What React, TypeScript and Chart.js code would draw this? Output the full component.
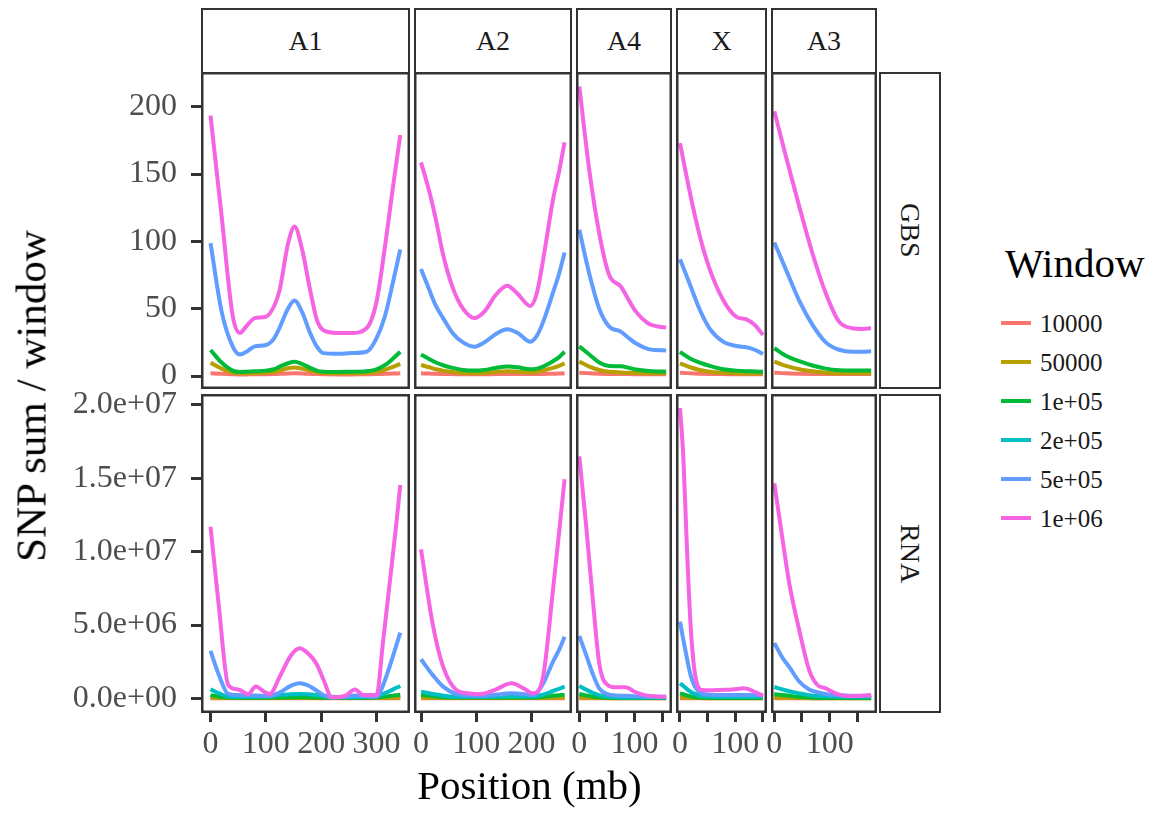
import React, { useEffect, useRef } from "react";
import { Chart, registerables } from "chart.js";
Chart.register(...registerables);

// ---------------- DATA ----------------
const WINDOWS = ["10000", "50000", "1e+05", "2e+05", "5e+05", "1e+06"];
const COLORS = ["#F8766D", "#B79F00", "#00BA38", "#00BFC4", "#619CFF", "#F564E3"];
const CHROMS = ["A1", "A2", "A4", "X", "A3"];
const DATASETS = ["GBS", "RNA"];

// x-axis ticks and labels per chromosome (mb)
const A1_TICKS = [0, 100, 200, 300];
const A1_TICK_LABELS = ["0", "100", "200", "300"];
const A2_TICKS = [0, 100, 200];
const A2_TICK_LABELS = ["0", "100", "200"];
const A4_TICKS = [0, 50, 100, 150];
const A4_TICK_LABELS = ["0", "", "100", ""];
const X_TICKS = [0, 50, 100, 150];
const X_TICK_LABELS = ["0", "", "100", ""];
const A3_TICKS = [0, 50, 100, 150];
const A3_TICK_LABELS = ["0", "", "100", ""];

// y-axis ticks and labels per row
const GBS_TICKS = [0, 50, 100, 150, 200];
const GBS_TICK_LABELS = ["0", "50", "100", "150", "200"];
const RNA_TICKS = [0, 5e6, 1e7, 1.5e7, 2e7];
const RNA_TICK_LABELS = ["0.0e+00", "5.0e+06", "1.0e+07", "1.5e+07", "2.0e+07"];

// ---- GBS ----
const A1_GBS_X = [0, 20, 40, 53, 65, 80, 100, 115, 125, 140, 152, 165, 180, 192, 204, 230, 255, 282, 300, 315, 330, 343];
const A1_GBS_10000 = [2, 1.6, 1.3, 1.2, 1.2, 1.3, 1.3, 1.4, 1.6, 1.9, 2, 1.9, 1.6, 1.4, 1.3, 1.2, 1.2, 1.3, 1.4, 1.6, 1.8, 2];
const A1_GBS_50000 = [9.9, 5.5, 2.5, 2, 2, 2.2, 2.5, 3, 4, 5.8, 6.4, 5.5, 4, 2.8, 2.2, 2, 2, 2.2, 3, 4.5, 6.8, 9];
const A1_GBS_1e05 = [19.3, 10, 4, 3, 3.2, 3.5, 4, 5, 7, 9.5, 10.6, 9, 6, 4, 3.2, 3, 3.2, 3.5, 5, 8, 13, 18];
const A1_GBS_5e05 = [98.7, 48, 22, 16, 18, 22, 23, 28, 36, 50, 56, 48, 32, 22, 17, 16.5, 17, 18, 28, 44, 70, 94];
const A1_GBS_1e06 = [193.5, 119, 45, 32, 37, 43, 44, 52, 64, 98, 111, 95, 64, 42, 34, 32, 32, 35.5, 55, 95, 141, 179];

const A2_GBS_X = [0, 15, 27, 40, 57, 76, 97, 115, 135, 156, 175, 198, 210, 221, 239, 250, 260];
const A2_GBS_10000 = [2, 1.8, 1.6, 1.5, 1.4, 1.3, 1.3, 1.3, 1.4, 1.5, 1.5, 1.4, 1.4, 1.5, 1.7, 1.8, 2];
const A2_GBS_50000 = [8.2, 6.5, 5, 4, 3, 2.2, 2, 2.3, 3, 3.5, 3.2, 2.8, 3.2, 4, 6, 7.5, 9.4];
const A2_GBS_1e05 = [16, 12.5, 10, 8, 6, 4.5, 4, 4.5, 6, 7, 6.5, 5, 5.5, 7, 11, 14, 18];
const A2_GBS_5e05 = [79.4, 64, 52, 43, 32, 25, 21.8, 25, 31, 34.7, 32, 25.5, 30, 40, 62, 76, 91.7];
const A2_GBS_1e06 = [158.7, 137, 116, 90, 66, 50, 43, 48, 60, 67, 61, 52, 62, 86, 131, 152, 173.6];

const A4_GBS_X = [0, 18, 36, 54, 75, 90, 102, 125, 140, 157];
const A4_GBS_10000 = [2.5, 2, 1.7, 1.5, 1.4, 1.4, 1.3, 1.3, 1.3, 1.3];
const A4_GBS_50000 = [10.7, 7, 4.5, 3.2, 2.6, 2.3, 2.2, 2, 2, 2];
const A4_GBS_1e05 = [22, 16, 10, 7.4, 7.2, 6, 4.8, 3.8, 3.4, 3.2];
const A4_GBS_5e05 = [108.6, 76, 50, 36.7, 33, 28, 24.3, 20, 19.3, 19];
const A4_GBS_1e06 = [215, 153, 106, 75, 66.5, 56, 48, 39, 37, 36];

const X_GBS_X = [0, 18, 36, 54, 78, 102, 120, 135, 150];
const X_GBS_10000 = [2.5, 2, 1.7, 1.5, 1.4, 1.3, 1.3, 1.3, 1.3];
const X_GBS_50000 = [9.4, 6.5, 4.5, 3.2, 2.4, 2, 1.9, 1.8, 1.8];
const X_GBS_1e05 = [17.9, 13, 10, 7.5, 5, 4, 3.6, 3.4, 3.2];
const X_GBS_5e05 = [86.8, 68, 49, 35, 25.5, 22.3, 21.3, 19.5, 16.4];
const X_GBS_1e06 = [173, 136, 103.6, 79, 56.5, 44, 42, 38, 30.5];

const A3_GBS_X = [0, 21, 45, 69, 93, 117, 141, 160, 175];
const A3_GBS_10000 = [2.5, 2, 1.7, 1.5, 1.4, 1.4, 1.4, 1.4, 1.5];
const A3_GBS_50000 = [10.7, 7.5, 5, 3.5, 2.5, 2.1, 2, 2, 2];
const A3_GBS_1e05 = [20.6, 15, 11, 7.8, 5.5, 4.3, 4, 4, 4];
const A3_GBS_5e05 = [99.2, 79, 56, 38, 25, 19.5, 18, 18, 18.4];
const A3_GBS_1e06 = [196.7, 163, 126, 91, 61.5, 40.4, 35.5, 35, 35.5];

// ---- RNA ----
const A1_RNA_X = [0, 15, 32, 50, 68, 82, 95, 107, 125, 145, 161, 175, 191, 205, 219, 243, 261, 276, 300, 312, 324, 335, 343];
const A1_RNA_10000 = [8e3, 6e3, 5e3, 5e3, 5e3, 5e3, 5e3, 5e3, 5e3, 5e3, 5e3, 5e3, 5e3, 5e3, 5e3, 5e3, 5e3, 5e3, 5e3, 6e3, 7e3, 8e3, 8e3];
const A1_RNA_50000 = [5e4, 3.5e4, 2e4, 2e4, 2e4, 2e4, 2e4, 2e4, 2e4, 2.5e4, 2.5e4, 2.5e4, 2e4, 2e4, 2e4, 2e4, 2e4, 2e4, 2e4, 3e4, 4e4, 5e4, 6e4];
const A1_RNA_1e05 = [0.22e6, 0.12e6, 0.05e6, 0.04e6, 0.04e6, 0.04e6, 0.04e6, 0.05e6, 0.06e6, 0.07e6, 0.08e6, 0.07e6, 0.06e6, 0.05e6, 0.04e6, 0.04e6, 0.04e6, 0.04e6, 0.05e6, 0.1e6, 0.16e6, 0.21e6, 0.25e6];
const A1_RNA_2e05 = [0.61e6, 0.35e6, 0.12e6, 0.1e6, 0.1e6, 0.1e6, 0.12e6, 0.15e6, 0.22e6, 0.28e6, 0.3e6, 0.28e6, 0.22e6, 0.15e6, 0.1e6, 0.08e6, 0.08e6, 0.1e6, 0.15e6, 0.3e6, 0.5e6, 0.7e6, 0.84e6];
const A1_RNA_5e05 = [3.23e6, 1.6e6, 0.3e6, 0.22e6, 0.2e6, 0.2e6, 0.17e6, 0.15e6, 0.4e6, 0.85e6, 1.02e6, 0.9e6, 0.55e6, 0.2e6, 0.05e6, 0.1e6, 0.2e6, 0.15e6, 0.1e6, 0.9e6, 2.2e6, 3.5e6, 4.48e6];
const A1_RNA_1e06 = [11.7e6, 6.3e6, 0.91e6, 0.6e6, 0.29e6, 0.8e6, 0.5e6, 0.3e6, 1.47e6, 2.9e6, 3.41e6, 3.1e6, 2.39e6, 1.2e6, 0.07e6, 0.16e6, 0.61e6, 0.22e6, 0.22e6, 3.9e6, 7.9e6, 11.6e6, 14.55e6];

const A2_RNA_X = [0, 21, 40, 64, 85, 109, 135, 164, 185, 203, 221, 239, 250, 260];
const A2_RNA_10000 = [8e3, 6e3, 5e3, 5e3, 5e3, 5e3, 5e3, 5e3, 5e3, 5e3, 5e3, 6e3, 7e3, 8e3];
const A2_RNA_50000 = [5e4, 3.5e4, 2.5e4, 2e4, 2e4, 2e4, 2e4, 2e4, 2e4, 2e4, 3e4, 4e4, 5e4, 6e4];
const A2_RNA_1e05 = [0.25e6, 0.15e6, 0.08e6, 0.05e6, 0.05e6, 0.05e6, 0.05e6, 0.06e6, 0.05e6, 0.05e6, 0.1e6, 0.17e6, 0.21e6, 0.25e6];
const A2_RNA_2e05 = [0.45e6, 0.3e6, 0.18e6, 0.1e6, 0.1e6, 0.1e6, 0.12e6, 0.15e6, 0.13e6, 0.12e6, 0.25e6, 0.5e6, 0.65e6, 0.79e6];
const A2_RNA_5e05 = [2.66e6, 1.6e6, 0.8e6, 0.29e6, 0.2e6, 0.16e6, 0.25e6, 0.34e6, 0.3e6, 0.22e6, 1.0e6, 2.5e6, 3.3e6, 4.2e6];
const A2_RNA_1e06 = [10.16e6, 5.1e6, 2.16e6, 0.57e6, 0.35e6, 0.29e6, 0.6e6, 1.02e6, 0.7e6, 0.34e6, 1.47e6, 7.4e6, 11.3e6, 14.94e6];

const A4_RNA_X = [0, 12, 24, 36, 51, 66, 84, 100, 120, 140, 157];
const A4_RNA_10000 = [8e3, 6e3, 5e3, 4e3, 4e3, 4e3, 4e3, 4e3, 4e3, 4e3, 4e3];
const A4_RNA_50000 = [6e4, 4e4, 3e4, 2e4, 1.5e4, 1e4, 1e4, 1e4, 1e4, 1e4, 1e4];
const A4_RNA_1e05 = [0.29e6, 0.2e6, 0.12e6, 0.07e6, 0.04e6, 0.03e6, 0.02e6, 0.02e6, 0.02e6, 0.02e6, 0.02e6];
const A4_RNA_2e05 = [0.84e6, 0.6e6, 0.38e6, 0.22e6, 0.12e6, 0.08e6, 0.06e6, 0.05e6, 0.05e6, 0.05e6, 0.05e6];
const A4_RNA_5e05 = [4.25e6, 3.0e6, 1.7e6, 0.68e6, 0.29e6, 0.2e6, 0.17e6, 0.15e6, 0.12e6, 0.1e6, 0.1e6];
const A4_RNA_1e06 = [16.5e6, 11.9e6, 6.9e6, 2.39e6, 0.91e6, 0.75e6, 0.75e6, 0.45e6, 0.2e6, 0.13e6, 0.11e6];

const X_RNA_X = [0, 6, 12, 19, 27, 39, 55, 72, 95, 115, 135, 150];
const X_RNA_10000 = [1e4, 8e3, 7e3, 6e3, 5e3, 4e3, 4e3, 4e3, 4e3, 4e3, 4e3, 4e3];
const X_RNA_50000 = [7e4, 6e4, 4.5e4, 3e4, 2e4, 1.5e4, 1e4, 1e4, 1e4, 1e4, 1e4, 1e4];
const X_RNA_1e05 = [0.34e6, 0.28e6, 0.2e6, 0.14e6, 0.08e6, 0.04e6, 0.03e6, 0.02e6, 0.02e6, 0.02e6, 0.02e6, 0.02e6];
const X_RNA_2e05 = [1.02e6, 0.85e6, 0.65e6, 0.45e6, 0.3e6, 0.15e6, 0.12e6, 0.1e6, 0.1e6, 0.1e6, 0.1e6, 0.1e6];
const X_RNA_5e05 = [5.23e6, 4.0e6, 2.84e6, 1.6e6, 0.8e6, 0.34e6, 0.25e6, 0.22e6, 0.22e6, 0.22e6, 0.22e6, 0.22e6];
const X_RNA_1e06 = [19.78e6, 16.5e6, 10.8e6, 5.1e6, 1.7e6, 0.57e6, 0.55e6, 0.57e6, 0.6e6, 0.68e6, 0.45e6, 0.16e6];

const A3_RNA_X = [0, 15, 27, 45, 63, 78, 93, 111, 135, 155, 175];
const A3_RNA_10000 = [8e3, 7e3, 6e3, 5e3, 4e3, 4e3, 4e3, 4e3, 4e3, 4e3, 4e3];
const A3_RNA_50000 = [6e4, 4.5e4, 3.5e4, 2.5e4, 1.5e4, 1e4, 1e4, 1e4, 1e4, 1e4, 1e4];
const A3_RNA_1e05 = [0.29e6, 0.22e6, 0.17e6, 0.1e6, 0.06e6, 0.04e6, 0.03e6, 0.03e6, 0.03e6, 0.03e6, 0.03e6];
const A3_RNA_2e05 = [0.77e6, 0.6e6, 0.48e6, 0.34e6, 0.22e6, 0.16e6, 0.14e6, 0.12e6, 0.1e6, 0.1e6, 0.1e6];
const A3_RNA_5e05 = [3.77e6, 2.75e6, 2.14e6, 1.15e6, 0.6e6, 0.42e6, 0.3e6, 0.22e6, 0.18e6, 0.16e6, 0.15e6];
const A3_RNA_1e06 = [14.67e6, 10.8e6, 7.84e6, 4.66e6, 1.93e6, 0.91e6, 0.68e6, 0.34e6, 0.15e6, 0.18e6, 0.22e6];

// ---------------- LAYOUT ----------------
const FONT = "'Liberation Serif', 'Times New Roman', serif";
const PAD = 20;
const Y_AXIS_W = 140;
const X_AXIS_H = 52;
// panel pixel bounds
const COL_BOUNDS = [[201, 410], [414, 572], [576, 672], [676, 767], [771, 877]];
const ROW_BOUNDS = [[72, 389], [394, 713]];
// visible axis ranges (data + expansion)
const X_RANGES = [[-17.2, 360.6], [-12.7, 273.4], [-6, 167.6], [-7.2, 157.3], [-6, 185.6]];
const Y_RANGES = [[-9.65, 225.8], [-1.0e6, 20.75e6]];

const X_TICK_TABLE = [
  [A1_TICKS, A1_TICK_LABELS], [A2_TICKS, A2_TICK_LABELS], [A4_TICKS, A4_TICK_LABELS],
  [X_TICKS, X_TICK_LABELS], [A3_TICKS, A3_TICK_LABELS],
];
const Y_TICK_TABLE = [[GBS_TICKS, GBS_TICK_LABELS], [RNA_TICKS, RNA_TICK_LABELS]];

// rows x cols: [xValues, series per window (null = absent)]
const PANEL_TABLE: any[][] = [
  [
    [A1_GBS_X, [A1_GBS_10000, A1_GBS_50000, A1_GBS_1e05, null, A1_GBS_5e05, A1_GBS_1e06]],
    [A2_GBS_X, [A2_GBS_10000, A2_GBS_50000, A2_GBS_1e05, null, A2_GBS_5e05, A2_GBS_1e06]],
    [A4_GBS_X, [A4_GBS_10000, A4_GBS_50000, A4_GBS_1e05, null, A4_GBS_5e05, A4_GBS_1e06]],
    [X_GBS_X, [X_GBS_10000, X_GBS_50000, X_GBS_1e05, null, X_GBS_5e05, X_GBS_1e06]],
    [A3_GBS_X, [A3_GBS_10000, A3_GBS_50000, A3_GBS_1e05, null, A3_GBS_5e05, A3_GBS_1e06]],
  ],
  [
    [A1_RNA_X, [A1_RNA_10000, A1_RNA_50000, A1_RNA_1e05, A1_RNA_2e05, A1_RNA_5e05, A1_RNA_1e06]],
    [A2_RNA_X, [A2_RNA_10000, A2_RNA_50000, A2_RNA_1e05, A2_RNA_2e05, A2_RNA_5e05, A2_RNA_1e06]],
    [A4_RNA_X, [A4_RNA_10000, A4_RNA_50000, A4_RNA_1e05, A4_RNA_2e05, A4_RNA_5e05, A4_RNA_1e06]],
    [X_RNA_X, [X_RNA_10000, X_RNA_50000, X_RNA_1e05, X_RNA_2e05, X_RNA_5e05, X_RNA_1e06]],
    [A3_RNA_X, [A3_RNA_10000, A3_RNA_50000, A3_RNA_1e05, A3_RNA_2e05, A3_RNA_5e05, A3_RNA_1e06]],
  ],
];

const borderPlugin = {
  id: "panelBorder",
  afterDraw(chart: any) {
    const { ctx, chartArea } = chart;
    const { left, top, right, bottom } = chartArea;
    ctx.save();
    ctx.strokeStyle = "#333333";
    ctx.lineWidth = 2.5;
    ctx.strokeRect(left + 1.25, top + 1.25, right - left - 2.5, bottom - top - 2.5);
    ctx.restore();
  },
};

function fixSize(s: any, w: number | null, h: number | null) {
  if (w !== null) s.width = w;
  if (h !== null) s.height = h;
  s.paddingTop = 0;
  s.paddingBottom = 0;
  s.paddingLeft = 0;
  s.paddingRight = 0;
}

function Panel({ r, c }: { r: number; c: number }) {
  const ref = useRef<HTMLCanvasElement>(null);
  const showY = c === 0;
  const showX = r === ROW_BOUNDS.length - 1;
  const [pl, pr] = COL_BOUNDS[c];
  const [pt, pb] = ROW_BOUNDS[r];
  const extraL = showY ? Y_AXIS_W : 0;
  const extraB = showX ? X_AXIS_H : 0;
  const left = pl - PAD - extraL;
  const top = pt - PAD;
  const width = pr - pl + 2 * PAD + extraL;
  const height = pb - pt + 2 * PAD + extraB;

  useEffect(() => {
    const [xs, series] = PANEL_TABLE[r][c];
    const [xTicks, xLabels] = X_TICK_TABLE[c];
    const [yTicks, yLabels] = Y_TICK_TABLE[r];
    const datasets: any[] = [];
    series.forEach((vals: number[] | null, i: number) => {
      if (!vals) return;
      datasets.push({
        label: WINDOWS[i],
        data: xs.map((x: number, j: number) => ({ x, y: vals[j] })),
        borderColor: COLORS[i],
        backgroundColor: COLORS[i],
        borderWidth: 4,
        pointRadius: 0,
        fill: false,
        cubicInterpolationMode: "monotone",
        order: WINDOWS.length - 1 - i,
      });
    });
    const tickFont = { family: FONT, size: 32 };
    const chart = new Chart(ref.current as HTMLCanvasElement, {
      type: "line",
      data: { datasets },
      options: {
        responsive: false,
        maintainAspectRatio: false,
        animation: false,
        devicePixelRatio: 1,
        layout: { padding: PAD, autoPadding: false } as any,
        plugins: { legend: { display: false }, tooltip: { enabled: false } },
        scales: {
          x: {
            type: "linear",
            display: showX,
            min: X_RANGES[c][0],
            max: X_RANGES[c][1],
            afterBuildTicks: (s: any) => { s.ticks = xTicks.map((v: number) => ({ value: v })); },
            afterFit: (s: any) => fixSize(s, null, showX ? X_AXIS_H : 0),
            ticks: {
              autoSkip: false, maxRotation: 0, minRotation: 0, padding: 3,
              color: "#4D4D4D", font: tickFont,
              callback: (_v: any, i: number) => xLabels[i],
            },
            grid: { drawOnChartArea: false, drawTicks: true, tickLength: 9, tickWidth: 3, tickColor: "#333333", color: "#333333", lineWidth: 3 },
            border: { display: false },
          },
          y: {
            type: "linear",
            display: showY,
            min: Y_RANGES[r][0],
            max: Y_RANGES[r][1],
            afterBuildTicks: (s: any) => { s.ticks = yTicks.map((v: number) => ({ value: v })); },
            afterFit: (s: any) => fixSize(s, showY ? Y_AXIS_W : 0, null),
            ticks: {
              autoSkip: false, padding: 14,
              color: "#4D4D4D", font: tickFont,
              callback: (_v: any, i: number) => yLabels[i],
            },
            grid: { drawOnChartArea: false, drawTicks: true, tickLength: 10, tickWidth: 3, tickColor: "#333333", color: "#333333", lineWidth: 3 },
            border: { display: false },
          },
        },
      } as any,
      plugins: [borderPlugin],
    });
    return () => chart.destroy();
  }, []);

  return (
    <canvas
      ref={ref}
      width={width}
      height={height}
      style={{ position: "absolute", left, top, width, height }}
    />
  );
}

const stripText: React.CSSProperties = {
  fontFamily: FONT,
  fontSize: 28,
  color: "#1A1A1A",
  display: "flex",
  alignItems: "center",
  justifyContent: "center",
  boxSizing: "border-box",
  border: "2.5px solid #333333",
  background: "#ffffff",
  position: "absolute",
};

export default function App() {
  const legendY = [323, 362, 401, 440, 479, 518];
  return (
    <div style={{ position: "absolute", left: 0, top: 0, width: 1153, height: 814, background: "#ffffff", overflow: "hidden" }}>
      {CHROMS.map((name, c) => (
        <div key={"ts" + name} style={{ ...stripText, left: COL_BOUNDS[c][0], top: 8, width: COL_BOUNDS[c][1] - COL_BOUNDS[c][0], height: 66 }}>
          {name}
        </div>
      ))}
      {DATASETS.map((name, r) => (
        <div key={"rs" + name} style={{ ...stripText, left: 879, top: ROW_BOUNDS[r][0], width: 62, height: ROW_BOUNDS[r][1] - ROW_BOUNDS[r][0] }}>
          <span style={{ writingMode: "vertical-rl" as any }}>{name}</span>
        </div>
      ))}
      {DATASETS.map((_, r) => CHROMS.map((_c, c) => <Panel key={r + "-" + c} r={r} c={c} />))}
      <div style={{ position: "absolute", left: 31, top: 396, transform: "translate(-50%, -50%) rotate(-90deg)", fontFamily: FONT, fontSize: 43, lineHeight: "43px", whiteSpace: "nowrap", color: "#000" }}>
        SNP sum / window
      </div>
      <div style={{ position: "absolute", left: 529.5, top: 765, transform: "translateX(-50%)", fontFamily: FONT, fontSize: 41, lineHeight: "41px", whiteSpace: "nowrap", color: "#000" }}>
        Position (mb)
      </div>
      <div style={{ position: "absolute", left: 1005, top: 243, fontFamily: FONT, fontSize: 41, lineHeight: "41px", whiteSpace: "nowrap", color: "#000" }}>
        Window
      </div>
      {WINDOWS.map((w, i) => (
        <React.Fragment key={"lg" + w}>
          <div style={{ position: "absolute", left: 1001, top: legendY[i] - 2, width: 30, height: 4, background: COLORS[i] }} />
          <div style={{ position: "absolute", left: 1040, top: legendY[i] - 12.5, fontFamily: FONT, fontSize: 25, lineHeight: "25px", whiteSpace: "nowrap", color: "#1A1A1A" }}>
            {w}
          </div>
        </React.Fragment>
      ))}
    </div>
  );
}
